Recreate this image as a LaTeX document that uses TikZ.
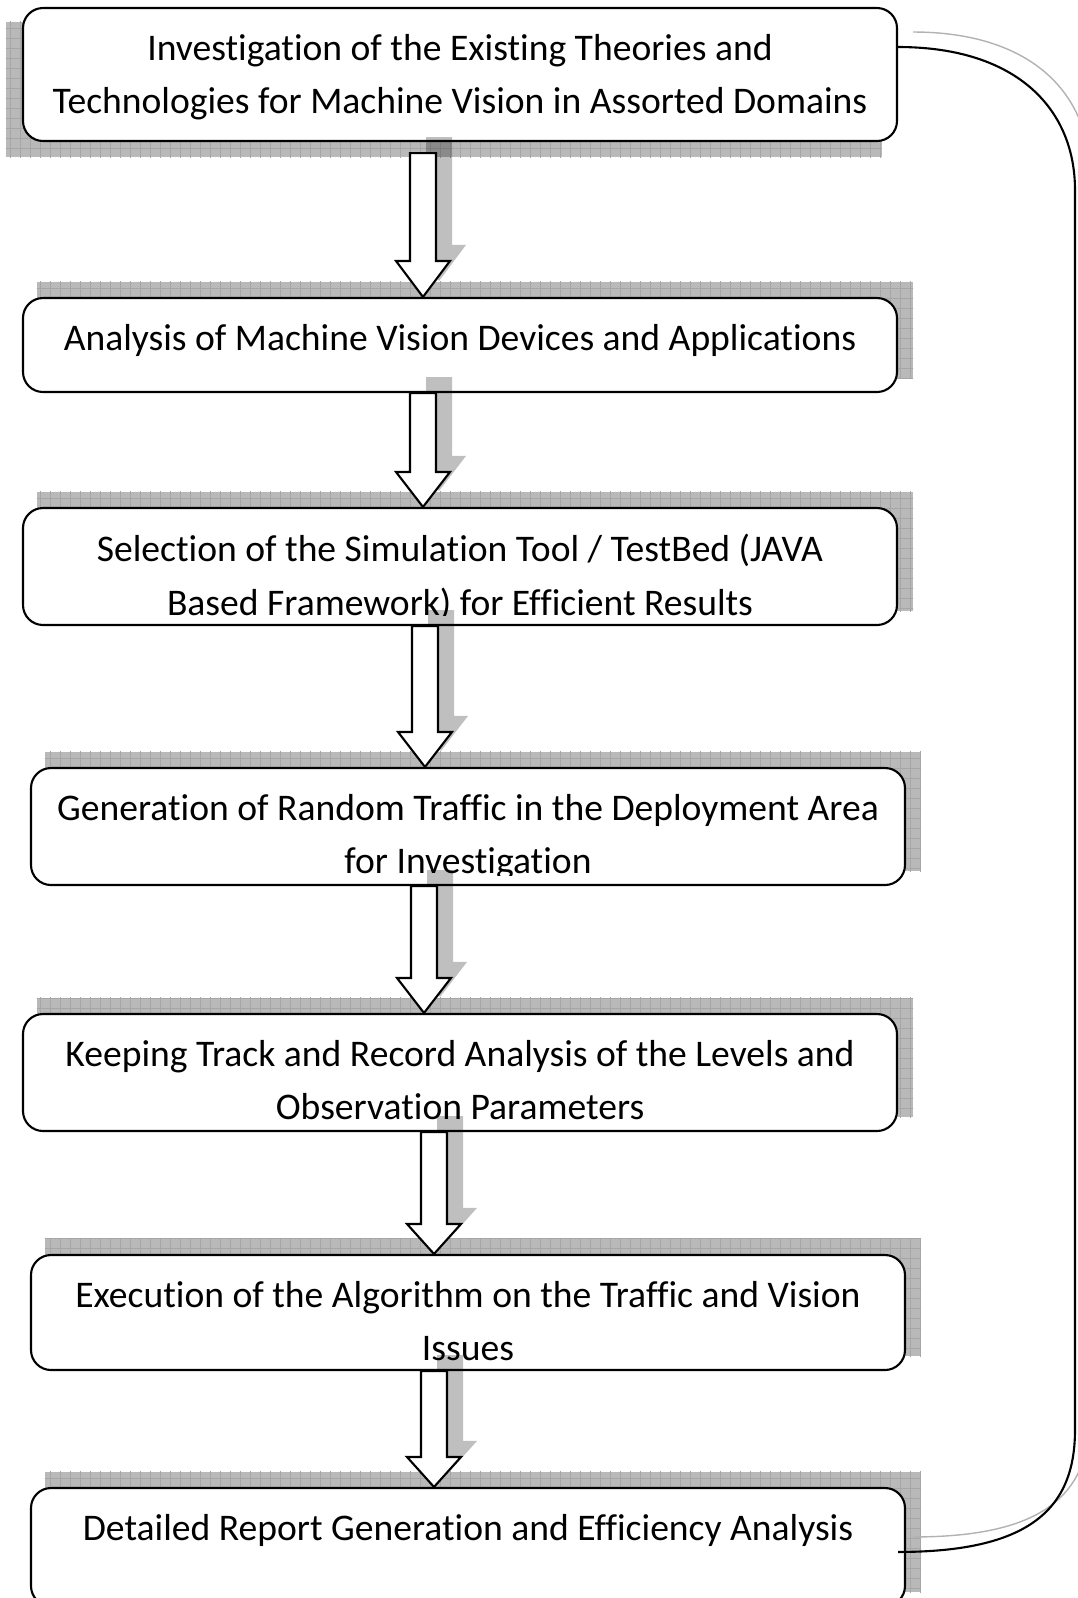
\documentclass[tikz,border=0pt]{standalone}
\usepackage{fontspec}
\setmainfont{Carlito}[Ligatures=CommonOff]
\usetikzlibrary{calc,positioning,patterns.meta,backgrounds}

\begin{document}
\begin{tikzpicture}[x=1cm,y=1cm,
  stepbox/.style={draw,line width=0.6pt,rounded corners=0.2cm,fill=white,minimum width=8.74cm,inner sep=0pt},
  steptext/.style={align=center,inner sep=0pt,minimum width=0pt,minimum height=0pt,font=\fontsize{10.7}{15.3}\selectfont},
  steptxt/.style={path picture={
      \clip ([yshift=0.1cm]path picture bounding box.south west) rectangle (path picture bounding box.north east);
      \node[steptext,below=0.25cm] at (path picture bounding box.north) {#1};}},
  boxshadow/.style={fill=gray!55,postaction={pattern={Hatch[angle=0,distance=1mm,line width=0.2pt]},pattern color=gray!70}},
  arrowshadow/.style={fill=black,fill opacity=0.25},
  blockarrow/.style={draw,fill=white,line width=0.6pt,line join=miter}]
  \useasboundingbox (0,0) rectangle (10.78,-15.98);
  \clip (0,0) rectangle (10.78,-15.98);

  % steps
  \node[stepbox,minimum height=1.33cm,steptxt={Investigation of the Existing Theories and\\Technologies for Machine Vision in Assorted Domains}] (s1) at (4.60,-0.745) {};
  \node[stepbox,minimum height=0.94cm,steptxt={Analysis of Machine Vision Devices and Applications}] (s2) at (4.60,-3.45) {};
  \node[stepbox,minimum height=1.17cm,steptxt={Selection of the Simulation Tool / TestBed (JAVA\\Based Framework) for Efficient Results}] (s3) at (4.60,-5.665) {};
  \node[stepbox,minimum height=1.17cm,steptxt={Generation of Random Traffic in the Deployment Area\\for Investigation}] (s4) at (4.68,-8.265) {};
  \node[stepbox,minimum height=1.17cm,steptxt={Keeping Track and Record Analysis of the Levels and\\Observation Parameters}] (s5) at (4.60,-10.725) {};
  \node[stepbox,minimum height=1.15cm,steptxt={Execution of the Algorithm on the Traffic and Vision\\Issues}] (s6) at (4.68,-13.125) {};
  \node[stepbox,minimum height=1.18cm,steptxt={Detailed Report Generation and Efficiency Analysis}] (s7) at (4.68,-15.47) {};

  % shadows behind the steps
  \begin{scope}[on background layer]
    \fill[boxshadow] ([shift={(-0.16,-0.15)}]s1.south west) rectangle ([shift={(-0.16,-0.15)}]s1.north east);
    \foreach \n in {s2,s3,s4,s5,s6,s7}
      \fill[boxshadow] ([shift={(0.15,0.15)}]\n.south west) rectangle ([shift={(0.15,0.15)}]\n.north east);
  \end{scope}

  % block arrows
  \foreach \a/\b/\ax/\gap/\hl in {s1/s2/4.23/0.11/0.36, s2/s3/4.23/0/0.35, s3/s4/4.25/0/0.35, s4/s5/4.24/0/0.35, s5/s6/4.34/0/0.30, s6/s7/4.34/0/0.30}{
    \coordinate (ax) at (\ax,0);
    \coordinate (top) at (\a.south -| ax);
    \coordinate (tip) at (\b.north -| ax);
    \foreach \d/\st in {0.16/arrowshadow,0/blockarrow}
      \path[\st] ([shift={(-0.13+\d,\d-\gap)}]top) -- ([shift={(0.13+\d,\d-\gap)}]top)
        -- ([shift={(0.13+\d,\hl+\d)}]tip) -- ([shift={(0.27+\d,\hl+\d)}]tip) -- ([shift={(\d,\d)}]tip)
        -- ([shift={(-0.27+\d,\hl+\d)}]tip) -- ([shift={(-0.13+\d,\hl+\d)}]tip) -- cycle;
  }

  % feedback line
  \coordinate (fbin) at ([yshift=0.275cm]s1.east);
  \coordinate (fbout) at ([shift={(-0.08,-0.65)}]s7.north east);
  \draw[gray!60,line width=0.4pt] ([shift={(0.15,0.15)}]fbin) .. controls +(1.2,0) and +(0,0.8) .. (10.9,-1.75)
    -- (10.9,-14.15) .. controls +(0,-0.8) and +(1.3,0) .. ([shift={(0.15,0.15)}]fbout);
  \draw[line width=0.6pt] (fbin) .. controls +(1.2,0) and +(0,0.8) .. (10.75,-1.9)
    -- (10.75,-14.3) .. controls +(0,-0.8) and +(1.3,0) .. (fbout);
\end{tikzpicture}
\end{document}
